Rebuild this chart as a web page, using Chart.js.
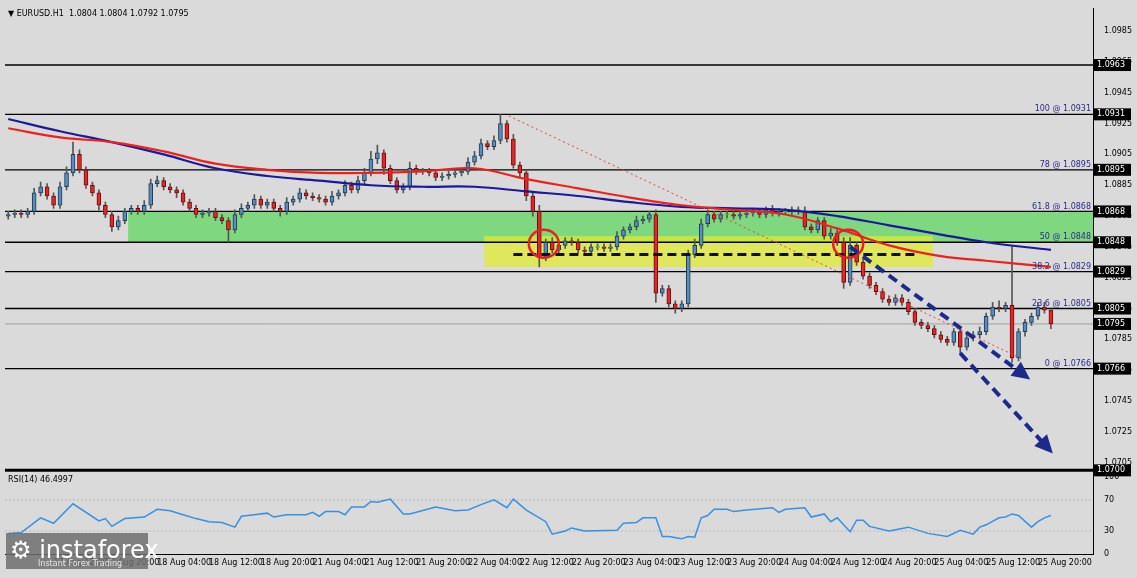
<!DOCTYPE html>
<html>
<head>
<meta charset="utf-8">
<script src="https://cdn.jsdelivr.net/npm/chart.js@4.4.0/dist/chart.umd.min.js"></script>
<style>
  html, body { margin: 0; padding: 0; background: #fff; }
  #wrap { position: absolute; left: 0; top: 0; width: 1137px; height: 578px; background: #dadada; }
  canvas { display: block; }
</style>
</head>
<body>
<div id="wrap"><canvas id="chart" width="1137" height="578"></canvas></div>
<script>
// EURUSD H1 closes (open = previous close)
const closes = [
  1.0866,1.0867,1.0866,1.0868,1.0880,1.0884,1.0878,1.0872,1.0884,1.0893,
  1.0905,1.0895,1.0885,1.0880,1.0872,1.0866,1.0858,1.0862,1.0868,1.0870,
  1.0868,1.0872,1.0886,1.0888,1.0884,1.0882,1.0880,1.0874,1.0870,1.0866,
  1.0867,1.0868,1.0864,1.0862,1.0856,1.0866,1.0870,1.0872,1.0876,1.0872,
  1.0874,1.0870,1.0868,1.0874,1.0876,1.0880,1.0878,1.0877,1.0876,1.0874,
  1.0878,1.0880,1.0885,1.0882,1.0888,1.0893,1.0902,1.0906,1.0896,1.0888,
  1.0882,1.0884,1.0896,1.0894,1.0894,1.0893,1.0890,1.0891,1.0892,1.0893,
  1.0894,1.0900,1.0904,1.0912,1.0910,1.0914,1.0925,1.0915,1.0898,1.0893,
  1.0878,1.0868,1.0838,1.0848,1.0843,1.0846,1.0849,1.0848,1.0843,1.0842,
  1.0845,1.0845,1.0844,1.0845,1.0852,1.0856,1.0858,1.0862,1.0863,1.0866,
  1.0815,1.0818,1.0808,1.0805,1.0808,1.0840,1.0846,1.0860,1.0866,1.0863,
  1.0866,1.0866,1.0865,1.0866,1.0867,1.0868,1.0866,1.0869,1.0867,1.0868,
  1.0868,1.0869,1.0868,1.0858,1.0856,1.0862,1.0852,1.0854,1.0848,1.0822,
  1.0846,1.0835,1.0826,1.0820,1.0816,1.0811,1.0809,1.0812,1.0809,1.0803,
  1.0796,1.0794,1.0792,1.0788,1.0785,1.0783,1.0790,1.0780,1.0786,1.0788,
  1.0790,1.0800,1.0806,1.0805,1.0807,1.0773,1.0790,1.0796,1.0800,1.0806,
  1.0804,1.0795
];
const firstOpen = 1.0865;
// wick lengths in pips above / below the body
const wickUp = [
  2,2,2,2,3,3,2,2,3,4, 8,3,2,2,2,2,2,3,2,2, 2,3,3,3,2,2,2,2,2,2,
  2,2,2,2,2,3,3,2,3,2, 2,2,2,3,2,3,2,2,2,2, 3,2,3,2,3,3,5,5,2,2,
  2,2,4,2,2,2,2,2,2,2, 2,3,3,3,2,3,6,2,3,2, 2,2,4,2,3,2,2,2,2,2,
  2,2,2,2,3,2,2,3,2,2, 3,2,2,2,2,3,4,3,3,2, 2,2,2,2,2,2,2,2,3,2,
  2,2,2,3,2,2,2,3,2,3, 5,2,2,2,2,2,2,2,2,2, 2,2,2,2,2,2,2,2,2,2,
  3,2,3,4,2,38,2,2,2,3,3,0
];
const wickDn = [
  2,2,2,2,2,2,2,2,2,2, 2,2,2,2,3,2,3,2,2,2, 2,2,2,2,2,2,3,2,2,2,
  2,2,2,2,8,2,2,2,2,2, 2,2,3,2,2,2,2,2,2,2, 2,2,2,2,2,2,2,3,4,2,
  2,2,2,2,2,2,2,2,2,2, 2,2,2,2,2,2,2,2,2,3, 3,3,6,2,2,2,2,2,2,2,
  2,2,2,2,2,2,2,2,2,2, 6,2,2,3,2,2,2,2,2,2, 2,2,2,2,2,2,2,2,2,2,
  2,2,2,2,2,2,2,2,2,4, 2,2,2,2,2,2,2,2,2,2, 2,2,2,2,2,2,2,5,2,2,
  2,2,2,2,2,3,2,3,2,2,2,3
];
// moving averages (bar index, value)
const maIdx  = [0, 8, 16, 24, 32, 40, 48, 56, 64, 72, 80, 88, 96, 104, 112, 120, 128, 136, 144, 151, 161];
const maRed  = [1.0922,1.0916,1.0913,1.0907,1.0899,1.0895,1.0893,1.0893,1.0894,1.0896,1.0889,1.0883,1.0877,1.0872,1.0869,1.0866,1.0857,1.0846,1.0839,1.0836,1.0832];
const maBlue = [1.0928,1.0920,1.0913,1.0905,1.0896,1.0891,1.0888,1.0885,1.0884,1.0884,1.0881,1.0878,1.0874,1.0871,1.0870,1.0869,1.0865,1.0859,1.0853,1.0848,1.0843];
// RSI(14)
const rsiIdx = [0,2,5,7,10,14,15,16,18,21,23,25,27,29,31,33,35,36,38,40,41,43,46,47,48,49,51,52,53,55,56,57,59,61,62,66,69,71,73,75,77,78,80,83,84,86,
  87,89,94,95,97,98,100,101,102,104,105,106,107,108,109,111,112,114,118,119,120,123,124,126,127,128,130,131,132,133,136,139,142,145,147,149,150,151,153,154,155,156,158,159,160,161];
const rsiVal = [27,28,47,40,65,43,46,36,46,48,58,56,51,46,42,41,35,49,51,53,48,51,51,54,49,55,55,51,61,61,68,67,71,52,52,61,56,57,64,70,60,71,57,42,26,30,
  34,30,31,40,41,47,47,23,23,20,23,22,47,50,58,58,55,57,60,54,58,60,48,52,42,47,29,44,44,36,30,35,27,23,31,26,35,38,47,48,52,50,35,42,47,50];
const tickLabels = ["17 Aug 12:00","17 Aug 20:00","18 Aug 04:00","18 Aug 12:00","18 Aug 20:00","21 Aug 04:00","21 Aug 12:00",
  "21 Aug 20:00","22 Aug 04:00","22 Aug 12:00","22 Aug 20:00","23 Aug 04:00","23 Aug 12:00","23 Aug 20:00","24 Aug 04:00",
  "24 Aug 12:00","24 Aug 20:00","25 Aug 04:00","25 Aug 12:00","25 Aug 20:00"];
const levels = [1.0963, 1.0931, 1.0895, 1.0868, 1.0848, 1.0829, 1.0805, 1.0766];
const fibNames = [null, "100", "78", "61.8", "50", "38.2", "23.6", "0"];
const lastPrice = 1.0795;
const futureBars = 6;

const opens = closes.map((c, i) => i === 0 ? firstOpen : closes[i - 1]);
const highs = closes.map((c, i) => Math.max(opens[i], c) + wickUp[i] * 0.0001);
const lows = closes.map((c, i) => Math.min(opens[i], c) - wickDn[i] * 0.0001);
const labels = [];
for (let i = 0; i < closes.length + futureBars; i++) labels.push(i);

const bodyColor = closes.map((c, i) => c > opens[i] ? "#5b8bb8" : (c < opens[i] ? "#e3262a" : "#2ecc40"));
const bodyBorder = closes.map((c, i) => c > opens[i] ? "#1d3c58" : (c < opens[i] ? "#6b0d0d" : "#2ecc40"));

const F = "'DejaVu Sans', sans-serif";

const drawing = {
  id: "drawing",
  beforeDatasetsDraw(chart) {
    const { ctx, scales: { x, y, rsi }, chartArea: a } = chart;
    const Y = v => y.getPixelForValue(v);
    const X = v => x.getPixelForValue(v);
    ctx.save();
    // green and yellow zones
    ctx.fillStyle = "rgba(110,215,110,0.85)";
    ctx.fillRect(X(18.5), Y(1.0868), a.right - X(18.5), Y(1.0848) - Y(1.0868));
    ctx.fillStyle = "rgba(225,235,40,0.72)";
    ctx.fillRect(X(73.5), Y(1.0852), X(142.8) - X(73.5), Y(1.0832) - Y(1.0852));
    // level lines
    ctx.strokeStyle = "#000"; ctx.lineWidth = 1.3;
    levels.forEach(l => { ctx.beginPath(); ctx.moveTo(a.left, Y(l)); ctx.lineTo(a.right, Y(l)); ctx.stroke(); });
    ctx.strokeStyle = "#a0a0a0"; ctx.lineWidth = 1;
    ctx.beginPath(); ctx.moveTo(a.left, Y(lastPrice)); ctx.lineTo(a.right, Y(lastPrice)); ctx.stroke();
    // panel separator
    ctx.strokeStyle = "#000"; ctx.lineWidth = 3;
    ctx.beginPath(); ctx.moveTo(a.left, y.bottom); ctx.lineTo(a.right, y.bottom); ctx.stroke();
    // RSI 30/70 dotted
    ctx.strokeStyle = "#b8b8b8"; ctx.lineWidth = 1; ctx.setLineDash([2, 2]);
    [30, 70].forEach(v => { ctx.beginPath(); ctx.moveTo(a.left, rsi.getPixelForValue(v)); ctx.lineTo(a.right, rsi.getPixelForValue(v)); ctx.stroke(); });
    ctx.setLineDash([]);
    ctx.restore();
  },
  afterDatasetsDraw(chart) {
    const { ctx, scales: { x, y, rsi }, chartArea: a } = chart;
    const Y = v => y.getPixelForValue(v);
    const X = v => x.getPixelForValue(v);
    ctx.save();
    // red dotted trend line
    ctx.strokeStyle = "#e04040"; ctx.lineWidth = 1; ctx.setLineDash([2, 3]);
    ctx.beginPath(); ctx.moveTo(X(77.3), Y(1.0930)); ctx.lineTo(X(156.7), Y(1.0772)); ctx.stroke();
    // black dashed support
    ctx.strokeStyle = "#111"; ctx.lineWidth = 3; ctx.setLineDash([9, 5]);
    ctx.beginPath(); ctx.moveTo(X(78), Y(1.0840)); ctx.lineTo(X(140.5), Y(1.0840)); ctx.stroke();
    ctx.setLineDash([]);
    // red circles
    ctx.strokeStyle = "#e82020"; ctx.lineWidth = 2.5;
    [82.7, 129.7].forEach(i => { ctx.beginPath(); ctx.ellipse(X(i), Y(1.0847), 15, 14, 0, 0, Math.PI * 2); ctx.stroke(); });
    // blue dashed arrows
    const arrow = (i0, p0, i1, p1) => {
      const x0 = X(i0), y0 = Y(p0), x1 = X(i1), y1 = Y(p1);
      const ang = Math.atan2(y1 - y0, x1 - x0);
      ctx.strokeStyle = "#1c2a8c"; ctx.fillStyle = "#1c2a8c"; ctx.lineWidth = 4; ctx.setLineDash([10, 6]);
      ctx.beginPath(); ctx.moveTo(x0, y0); ctx.lineTo(x1 - 14 * Math.cos(ang), y1 - 14 * Math.sin(ang)); ctx.stroke();
      ctx.setLineDash([]);
      ctx.beginPath(); ctx.moveTo(x1, y1);
      ctx.lineTo(x1 - 20 * Math.cos(ang - 0.45), y1 - 20 * Math.sin(ang - 0.45));
      ctx.lineTo(x1 - 20 * Math.cos(ang + 0.45), y1 - 20 * Math.sin(ang + 0.45));
      ctx.closePath(); ctx.fill();
    };
    arrow(130, 1.0845, 157.8, 1.0759);
    arrow(147, 1.0776, 161.3, 1.0711);
    // fib labels
    ctx.font = "8px " + F; ctx.fillStyle = "#2a2a8a"; ctx.textAlign = "right"; ctx.textBaseline = "bottom";
    levels.forEach((l, i) => { if (fibNames[i]) ctx.fillText(fibNames[i] + " @ " + l.toFixed(4), a.right - 2, Y(l) - 1); });
    // right axis boxes
    ctx.textAlign = "left"; ctx.textBaseline = "middle";
    [...levels, lastPrice, 1.0700].forEach(l => {
      ctx.fillStyle = "#000"; ctx.fillRect(a.right + 1, Y(l) - 6, 37, 12);
      ctx.fillStyle = "#fff"; ctx.fillText(l.toFixed(4), a.right + 4, Y(l));
    });
    // headers
    ctx.fillStyle = "#000"; ctx.font = "8px " + F;
    ctx.fillText("\u25BC EURUSD.H1  1.0804 1.0804 1.0792 1.0795", a.left + 3, 14);
    ctx.fillText("RSI(14) 46.4997", a.left + 3, rsi.top + 10);
    // watermark
    ctx.fillStyle = "rgba(110,110,110,0.85)"; ctx.fillRect(6, 533, 142, 36);
    ctx.fillStyle = "#fff"; ctx.font = "24px " + F; ctx.textBaseline = "alphabetic";
    ctx.fillText("\u2699 instaforex", 10, 558);
    ctx.font = "8px " + F; ctx.fillStyle = "#e8e8e8";
    ctx.fillText("Instant Forex Trading", 38, 566);
    ctx.restore();
  }
};

new Chart(document.getElementById("chart"), {
  data: {
    labels: labels,
    datasets: [
      { type: "bar", label: "wick", data: closes.map((c, i) => [lows[i], highs[i]]), backgroundColor: "#555", barThickness: 1, yAxisID: "y", order: 3 },
      { type: "bar", label: "body", data: closes.map((c, i) => c === opens[i] ? [c - 0.00003, c + 0.00003] : [opens[i], c]),
        backgroundColor: bodyColor, borderColor: bodyBorder, borderWidth: 1, borderSkipped: false, barThickness: 4, yAxisID: "y", order: 2 },
      { type: "line", label: "ma red", data: maIdx.map((v, i) => ({ x: v, y: maRed[i] })), borderColor: "#ee2020", borderWidth: 2.2, pointRadius: 0, tension: 0.4, yAxisID: "y", order: 1 },
      { type: "line", label: "ma blue", data: maIdx.map((v, i) => ({ x: v, y: maBlue[i] })), borderColor: "#1a1a9a", borderWidth: 2.2, pointRadius: 0, tension: 0.4, yAxisID: "y", order: 1 },
      { type: "line", label: "rsi", data: rsiIdx.map((v, i) => ({ x: v, y: rsiVal[i] })), borderColor: "#3a8fe0", borderWidth: 1.5, pointRadius: 0, yAxisID: "rsi", order: 1 }
    ]
  },
  options: {
    responsive: false,
    animation: false,
    layout: { padding: { left: 5, top: 8, right: 0, bottom: 9 } },
    datasets: { bar: { grouped: false } },
    plugins: { legend: { display: false }, tooltip: { enabled: false } },
    scales: {
      x: {
        type: "category", offset: true,
        grid: { display: false, drawTicks: true, tickLength: 3, color: "#000" },
        border: { color: "#000" },
        ticks: {
          autoSkip: false, maxRotation: 0, align: "start", padding: 1,
          color: "#000", font: { size: 8, family: F },
          callback: (v, i) => (i % 8 === 7 && tickLabels[(i - 7) / 8]) ? tickLabels[(i - 7) / 8] : ""
        }
      },
      y: {
        position: "right", stack: "p", stackWeight: 5.5, min: 1.0700, max: 1.1000,
        grid: { display: false }, border: { color: "#000", width: 1 },
        afterBuildTicks: s => { s.ticks = []; for (let k = 0; k < 15; k++) s.ticks.push({ value: 1.0705 + k * 0.002 }); },
        afterFit: s => { s.width = 44; },
        ticks: { color: "#000", font: { size: 8, family: F }, padding: 3, callback: v => v.toFixed(4) }
      },
      rsi: {
        type: "linear", position: "right", stack: "p", stackWeight: 1, min: 0, max: 108,
        grid: { display: false }, border: { color: "#000" },
        afterBuildTicks: s => { s.ticks = [0, 30, 70, 100].map(v => ({ value: v })); },
        afterFit: s => { s.width = 44; },
        ticks: { color: "#000", font: { size: 8, family: F }, padding: 3 }
      }
    }
  },
  plugins: [drawing]
});
</script>
</body>
</html>
